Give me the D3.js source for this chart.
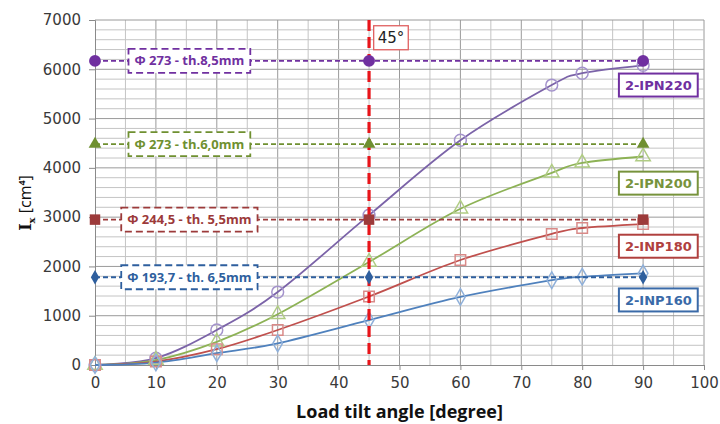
<!DOCTYPE html>
<meta charset="utf-8">
<style>
body { margin: 0; background: #fff; }
text { font-family: "DejaVu Sans", sans-serif; }
.tick text { font-family: "DejaVu Sans", sans-serif; font-size: 15px; fill: #3a3a3a; }
.reflabel { font-family: "Open Sans", sans-serif; font-weight: bold; font-size: 13px; }
.serlabel { font-family: "DejaVu Sans", sans-serif; font-weight: bold; font-size: 13px; }
</style>
<body>
<div id="chart"></div>
<script src="https://d3js.org/d3.v7.min.js"></script>
<script>
var angles = [0, 10, 20, 30, 45, 60, 75, 80, 90];
var ipn220 = [0, 140, 710, 1480, 3040, 4560, 5680, 5920, 6080];
var ipn200 = [0, 100, 470, 1030, 2090, 3170, 3900, 4100, 4230];
var inp180 = [0, 70, 320, 710, 1390, 2130, 2660, 2780, 2860];
var inp160 = [0, 50, 240, 440, 910, 1380, 1720, 1790, 1860];

// tube equivalents (dashed lines)
var refAngles = [0, 45, 90];
var refValues = [6170, 4480, 2950, 1780];
var refNames = ["\u03A6 273 - th.8,5mm", "\u03A6 273 - th.6,0mm", "\u03A6 244,5 - th. 5,5mm", "\u03A6 193,7 - th. 6,5mm"];

var seriesNames = ["2-IPN220", "2-IPN200", "2-INP180", "2-INP160"];
var seriesLabelAt = [5680, 3690, 2410, 1320];

var xTicks = d3.range(0, 101, 10);
var yTicks = d3.range(0, 7001, 1000);

var lineColors = ["#7b63a8", "#8db255", "#c0504d", "#4f81bd"];
var markColors = ["#a493cc", "#b0cc84", "#d98a88", "#8fb0da"];
var refColors  = ["#7030a0", "#6f9030", "#9c3a3a", "#2e5f9e"];
var boxColors  = ["#7030a0", "#77933c", "#b0403e", "#3a6aa8"];
var shapes = [d3.symbolCircle, d3.symbolTriangle, d3.symbolSquare, d3.symbolDiamond];

var width = 720, height = 424;
var margin = {top: 20, right: 16, bottom: 59, left: 95};
var w = width - margin.left - margin.right,
    h = height - margin.top - margin.bottom;

var svg = d3.select("#chart").append("svg")
    .attr("width", width)
    .attr("height", height);
var g = svg.append("g").attr("transform", "translate(" + margin.left + "," + margin.top + ")");

var x = d3.scaleLinear().domain([0, 100]).range([0, w]);
var y = d3.scaleLinear().domain([0, 7000]).range([h, 0]);

// grid
g.selectAll(".vgrid").data(d3.range(5, 101, 5)).enter().append("line")
    .attr("x1", x).attr("x2", x).attr("y1", 0).attr("y2", h)
    .attr("stroke", function(d) { return d % 10 == 0 ? "#9a9a9a" : "#c4c4c4"; })
    .attr("stroke-width", 1);
g.selectAll(".hgrid").data(d3.range(200, 7001, 200)).enter().append("line")
    .attr("y1", y).attr("y2", y).attr("x1", 0).attr("x2", w)
    .attr("stroke", function(d) { return d % 1000 == 0 ? "#9a9a9a" : "#c4c4c4"; })
    .attr("stroke-width", 1);

// axes
var xAxis = g.append("g").attr("transform", "translate(0," + h + ")")
    .call(d3.axisBottom(x).tickValues(xTicks).tickSize(5).tickPadding(7));
var yAxis = g.append("g")
    .call(d3.axisLeft(y).tickValues(yTicks).tickFormat(d3.format("d")).tickSize(6).tickPadding(8));
[xAxis, yAxis].forEach(function(a) {
  a.select(".domain").attr("stroke", "#8a8a8a");
  a.selectAll(".tick line").attr("stroke", "#8a8a8a");
  a.attr("font-family", null).attr("font-size", null);
});

svg.append("text")
    .attr("x", margin.left + x(50)).attr("y", 418)
    .attr("text-anchor", "middle")
    .style("font-family", "'Open Sans', sans-serif")
    .style("font-weight", "bold").style("font-size", "18px")
    .attr("fill", "#111")
    .text("Load tilt angle [degree]");

var yt = svg.append("text")
    .attr("transform", "translate(31,203) rotate(-90)")
    .attr("text-anchor", "middle")
    .style("font-family", "'DejaVu Serif', serif")
    .style("font-weight", "bold").style("font-size", "16px")
    .attr("fill", "#111");
yt.append("tspan").text("I");
yt.append("tspan").attr("dy", 4).style("font-size", "10px").text("x");
yt.append("tspan").attr("dy", -4).style("font-family", "'Open Sans', sans-serif").style("font-weight", "normal").text(" [cm");
yt.append("tspan").attr("dy", -6).style("font-size", "9px").style("font-family", "'Open Sans', sans-serif").text("4");
yt.append("tspan").attr("dy", 6).style("font-family", "'Open Sans', sans-serif").style("font-weight", "normal").text("]");

// series curves
var allSeries = [ipn220, ipn200, inp180, inp160];
var line = d3.line()
    .x(function(d, i) { return x(angles[i]); })
    .y(function(d) { return y(d); })
    .curve(d3.curveCatmullRom.alpha(0));

allSeries.forEach(function(s, k) {
  g.append("path").datum(s)
      .attr("d", line)
      .attr("fill", "none")
      .attr("stroke", lineColors[k])
      .attr("stroke-width", 1.8);
});

// open markers
allSeries.forEach(function(s, k) {
  var sym = d3.symbol().type(shapes[k]).size(k == 1 ? 90 : (k == 3 ? 80 : 110));
  g.selectAll(".m" + k).data(s).enter().append("path")
      .attr("transform", function(d, i) { return "translate(" + x(angles[i]) + "," + y(d) + ")"; })
      .attr("d", sym)
      .attr("fill", "none")
      .attr("stroke", markColors[k])
      .attr("stroke-width", 1.5);
});

// 45 degree line
g.append("line")
    .attr("x1", x(45)).attr("x2", x(45)).attr("y1", 0).attr("y2", h)
    .attr("stroke", "#e8141a").attr("stroke-width", 3.2)
    .attr("stroke-dasharray", "11,6");

// reference lines
refValues.forEach(function(v, k) {
  var ly = y(v);
  g.append("line")
      .attr("x1", x(0)).attr("x2", x(90)).attr("y1", ly).attr("y2", ly)
      .attr("stroke", refColors[k]).attr("stroke-width", 1.8)
      .attr("stroke-dasharray", "5,3");

  var t = g.append("text")
      .attr("class", "reflabel")
      .attr("x", x(15.5)).attr("y", ly + 4.5)
      .attr("text-anchor", "middle")
      .attr("fill", refColors[k])
      .text(refNames[k]);
  var bb = t.node().getBBox();
  g.insert("rect", function() { return t.node(); })
      .attr("x", bb.x - 6).attr("y", ly - 12)
      .attr("width", bb.width + 12).attr("height", 24)
      .attr("fill", "#fff")
      .attr("stroke", refColors[k]).attr("stroke-width", 1.8)
      .attr("stroke-dasharray", "7,4");

  var sym = d3.symbol().type(shapes[k]).size(k == 1 ? 70 : (k == 3 ? 60 : 110));
  g.selectAll(".r" + k).data(refAngles).enter().append("path")
      .attr("transform", function(a) { return "translate(" + x(a) + "," + ly + ")"; })
      .attr("d", sym)
      .attr("fill", refColors[k]);
});

// 45 deg label
var lab45 = g.append("text")
    .attr("x", x(48.6)).attr("y", y(6640) + 5)
    .attr("text-anchor", "middle")
    .style("font-size", "15px")
    .attr("fill", "#222")
    .text("45\u00B0");
var b45 = lab45.node().getBBox();
g.insert("rect", function() { return lab45.node(); })
    .attr("x", b45.x - 4).attr("y", y(6640) - 12)
    .attr("width", b45.width + 8).attr("height", 24)
    .attr("fill", "#fff").attr("stroke", "#e06060").attr("stroke-width", 1.3);

// series labels
seriesNames.forEach(function(n, k) {
  var ly = y(seriesLabelAt[k]);
  var t = g.append("text")
      .attr("class", "serlabel")
      .attr("x", x(92.5)).attr("y", ly + 5)
      .attr("text-anchor", "middle")
      .attr("fill", boxColors[k])
      .text(n);
  var bb = t.node().getBBox();
  g.insert("rect", function() { return t.node(); })
      .attr("x", bb.x - 6).attr("y", ly - 11.5)
      .attr("width", bb.width + 12).attr("height", 23)
      .attr("fill", "#fff")
      .attr("stroke", boxColors[k]).attr("stroke-width", 2);
});
</script>
</body>
